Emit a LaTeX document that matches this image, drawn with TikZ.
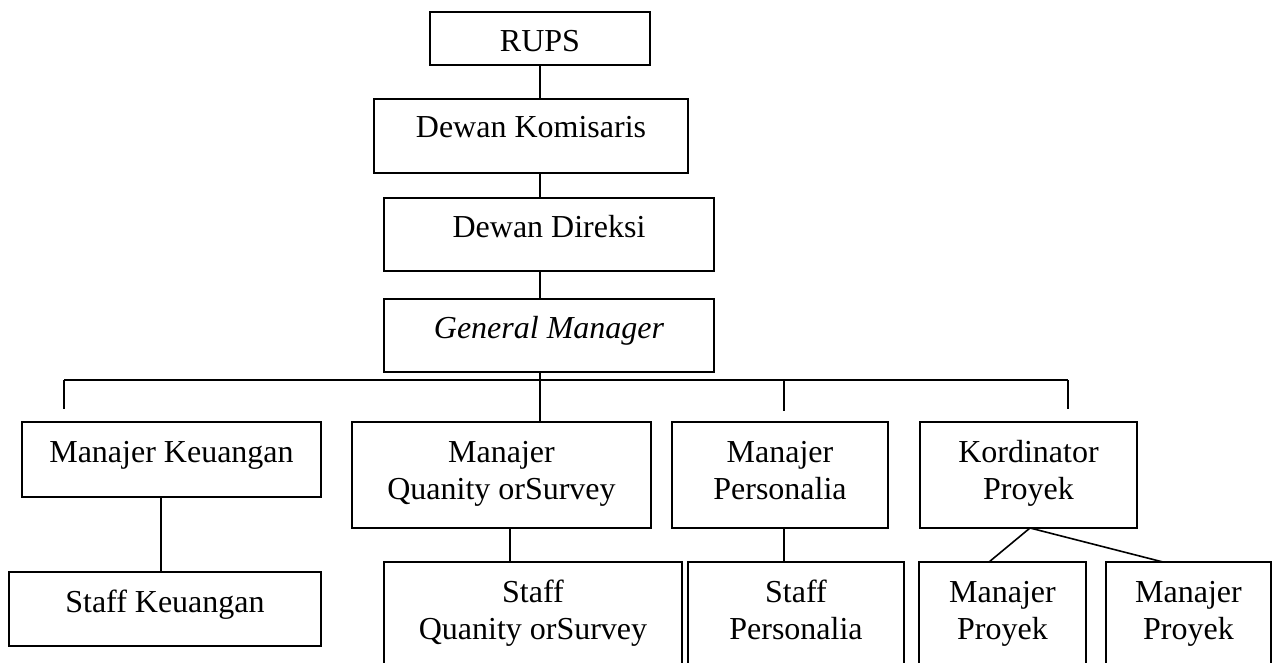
\documentclass[tikz,border=0pt]{standalone}
\usepackage{fontspec}
\setmainfont{Liberation Serif}
\tikzset{
  box/.style={draw, line width=1.6pt, inner sep=0pt, outer sep=0pt},
  txt/.style={anchor=base, inner sep=0pt, font=\fontsize{32}{37}\selectfont},
  link/.style={line width=1.6pt}
}
\newcommand{\twoline}[2]{\parbox[t]{420pt}{\centering #1\\#2}}
\begin{document}
\begin{tikzpicture}[x=1pt,y=-1pt]
\useasboundingbox (0,0) rectangle (1272,663);
\clip (0,0) rectangle (1272,663);
\fill[white] (0,0) rectangle (1272,663);
% boxes: centre x, centre y, width, height
\node[box, minimum width=220, minimum height=53] (rups) at (540,38.5) {};
\node[box, minimum width=314, minimum height=74] (dk) at (531,136) {};
\node[box, minimum width=330, minimum height=73] (dd) at (549,234.5) {};
\node[box, minimum width=330, minimum height=73] (gm) at (549,335.5) {};
\node[box, minimum width=299, minimum height=75] (mk) at (171.5,459.5) {};
\node[box, minimum width=312, minimum height=74] (sk) at (165,609) {};
\node[box, minimum width=299, minimum height=106] (mq) at (501.5,475) {};
\node[box, minimum width=298, minimum height=130] (sq) at (533,627) {};
\node[box, minimum width=216, minimum height=106] (mp) at (780,475) {};
\node[box, minimum width=216, minimum height=130] (sp) at (796,627) {};
\node[box, minimum width=217, minimum height=106] (kp) at (1028.5,475) {};
\node[box, minimum width=167, minimum height=130] (mp1) at (1002.5,627) {};
\node[box, minimum width=165, minimum height=130] (mp2) at (1188.5,627) {};
% texts
\node[txt] (rups-t) at (540,52) {RUPS};
\node[txt] (dk-t) at (531,138) {Dewan Komisaris};
\node[txt] (dd-t) at (549,237) {Dewan Direksi};
\node[txt] (gm-t) at (549,338) {\itshape General Manager};
\node[txt] (mk-t) at (171.5,462) {Manajer Keuangan};
\node[txt] (sk-t) at (165,612) {Staff Keuangan};
\node[txt] (mq-t) at (501.5,462) {\twoline{Manajer}{Quanity orSurvey}};
\node[txt] (sq-t) at (533,602) {\twoline{Staff}{Quanity orSurvey}};
\node[txt] (mp-t) at (780,462) {\twoline{Manajer}{Personalia}};
\node[txt] (sp-t) at (796,602) {\twoline{Staff}{Personalia}};
\node[txt] (kp-t) at (1028.5,462) {\twoline{Kordinator}{Proyek}};
\node[txt] (mp1-t) at (1002.5,602) {\twoline{Manajer}{Proyek}};
\node[txt] (mp2-t) at (1188.5,602) {\twoline{Manajer}{Proyek}};
% bus coordinates
\coordinate (b1) at (64,380);
\coordinate (b2) at (540,380);
\coordinate (b3) at (784,380);
\coordinate (b4) at (1068,380);
\coordinate (e1) at (64,409);
\coordinate (e3) at (784,411);
\coordinate (e4) at (1068,409);
% connectors
\draw[link] (rups.south) -- (rups.south |- dk.north);
\draw[link] (rups.south |- dk.south) -- (rups.south |- dd.north);
\draw[link] (rups.south |- dd.south) -- (rups.south |- gm.north);
\draw[link] (rups.south |- gm.south) -- (b2) -- (b2 |- mq.north);
\draw[link] (b1) -- (b4);
\draw[link] (b1) -- (e1);
\draw[link] (b3) -- (e3);
\draw[link] (b4) -- (e4);
\draw[link] (161,0 |- mk.south) -- (161,0 |- sk.north);
\draw[link] (510,0 |- mq.south) -- (510,0 |- sq.north);
\draw[link] (784,0 |- mp.south) -- (784,0 |- sp.north);
\draw[link] (1030,0 |- kp.south) -- (989,0 |- mp1.north);
\draw[link] (1030,0 |- kp.south) -- (1163,0 |- mp2.north);
\end{tikzpicture}
\end{document}
